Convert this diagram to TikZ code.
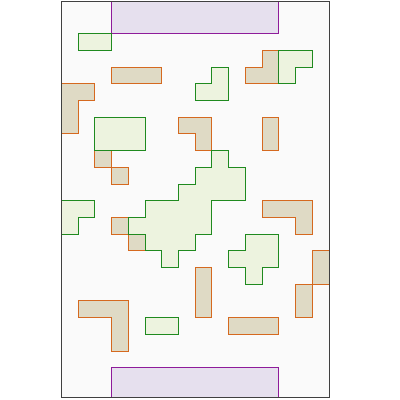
\documentclass[tikz,border=0pt]{standalone}
\definecolor{bgc}{HTML}{FAFAFA}
\definecolor{grf}{HTML}{EDF3DF}
\definecolor{grd}{HTML}{1F8A1F}
\definecolor{tnf}{HTML}{DFDAC5}
\definecolor{tnd}{HTML}{D5691F}
\definecolor{puf}{HTML}{E6E0EE}
\definecolor{pud}{HTML}{8E1B9A}
\begin{document}
\begin{tikzpicture}[x=1pt,y=-1pt,line join=miter]
\useasboundingbox (0,0) rectangle (400,400);
\tikzset{
  greenzone/.style={fill=grf,draw=grd,line width=1pt},
  tanzone/.style={fill=tnf,draw=tnd,line width=1pt},
  purplezone/.style={fill=puf,draw=pud,line width=1pt},
  framezone/.style={fill=bgc,draw=black!75,line width=1pt}
}
\fill[bgc] (61.5,1.3) rectangle (329.3,397.7);
\begin{scope}
\clip (61.5,1.3) rectangle (329.3,397.7);
\begin{scope}[shift={(61.5pt,-0.3pt)},x=16.72pt,y=-16.7pt]
% purple
\draw[purplezone] (3,-1) rectangle (13,2);
\draw[purplezone] (3,22) rectangle (13,25);
% tan shapes
\draw[tanzone] (3,4) rectangle (6,5);
\draw[tanzone] (0,5) -- (2,5) -- (2,6) -- (1,6) -- (1,8) -- (0,8) -- cycle;
\draw[tanzone] (12,3) -- (13,3) -- (13,5) -- (11,5) -- (11,4) -- (12,4) -- cycle;
\draw[tanzone] (7,7) -- (9,7) -- (9,9) -- (8,9) -- (8,8) -- (7,8) -- cycle;
\draw[tanzone] (12,7) rectangle (13,9);
\draw[tanzone] (2,9) rectangle (3,10);
\draw[tanzone] (3,10) rectangle (4,11);
\draw[tanzone] (3,13) rectangle (4,14);
\draw[tanzone] (4,14) rectangle (5,15);
\draw[tanzone] (12,12) -- (15,12) -- (15,14) -- (14,14) -- (14,13) -- (12,13) -- cycle;
\draw[tanzone] (15,15) rectangle (16,17);
\draw[tanzone] (8,16) rectangle (9,19);
\draw[tanzone] (14,17) rectangle (15,19);
\draw[tanzone] (1,18) -- (4,18) -- (4,21) -- (3,21) -- (3,19) -- (1,19) -- cycle;
\draw[tanzone] (10,19) rectangle (13,20);
% green shapes
\draw[greenzone] (1,2) rectangle (3,3);
\draw[greenzone] (9,4) -- (10,4) -- (10,6) -- (8,6) -- (8,5) -- (9,5) -- cycle;
\draw[greenzone] (13,3) -- (15,3) -- (15,4) -- (14,4) -- (14,5) -- (13,5) -- cycle;
\draw[greenzone] (2,7) rectangle (5,9);
\draw[greenzone] (0,12) -- (2,12) -- (2,13) -- (1,13) -- (1,14) -- (0,14) -- cycle;
\draw[greenzone] (7,11) -- (8,11) -- (8,10) -- (9,10) -- (9,9) -- (10,9) -- (10,10) -- (11,10)
  -- (11,12) -- (9,12) -- (9,14) -- (8,14) -- (8,15) -- (7,15) -- (7,16) -- (6,16) -- (6,15)
  -- (5,15) -- (5,14) -- (4,14) -- (4,13) -- (5,13) -- (5,12) -- (7,12) -- cycle;
\draw[greenzone] (11,14) -- (13,14) -- (13,16) -- (12,16) -- (12,17) -- (11,17) -- (11,16)
  -- (10,16) -- (10,15) -- (11,15) -- cycle;
\draw[greenzone] (5,19) rectangle (7,20);
\end{scope}
\end{scope}
\draw[black!75,line width=1pt] (61.5,1.3) rectangle (329.3,397.7);
\end{tikzpicture}
\end{document}
